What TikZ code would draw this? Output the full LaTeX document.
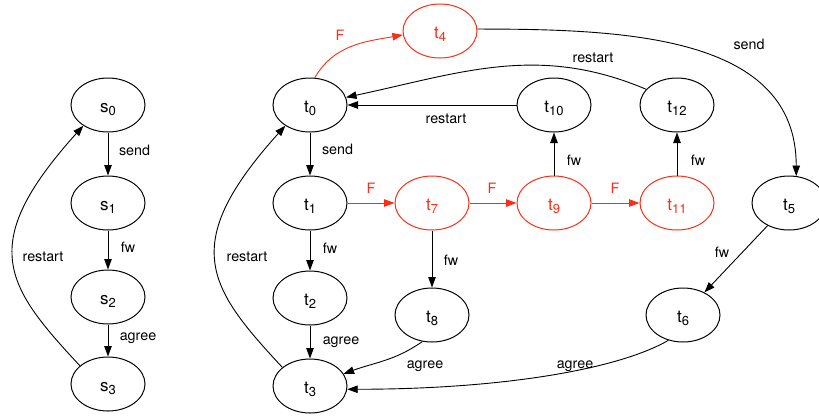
\documentclass[tikz,border=0pt]{standalone}
\usepackage{fontspec}
\setmainfont{TeX Gyre Heros}
\usetikzlibrary{shapes.geometric,arrows.meta}
\definecolor{fred}{RGB}{252,45,20}
\newcommand\nlab[2]{#1\raisebox{-3pt}{\fontsize{13}{13}\selectfont #2}\rule{0pt}{18.5pt}}
\begin{document}
\begin{tikzpicture}[x=1pt,y=1pt,
  st/.style={ellipse, draw, line width=1pt, minimum width=74pt, minimum height=54pt, inner sep=0pt, font=\fontsize{17}{17}\selectfont},
  rst/.style={st, draw=fred, text=fred},
  arr/.style={line width=0.9pt, -{Triangle[length=10.5pt,width=7.5pt]}},
  rarr/.style={arr, color=fred},
  lbl/.style={font=\fontsize{14.3}{14.3}\selectfont, inner sep=0pt},
  rlbl/.style={lbl, text=fred}]
\useasboundingbox (0,0) rectangle (819,-416);
% left chain
\node[st] (s0) at (108,-105) {\nlab{s}{0}};
\node[st] (s1) at (108,-203) {\nlab{s}{1}};
\node[st] (s2) at (108,-297) {\nlab{s}{2}};
\node[st] (s3) at (108,-384) {\nlab{s}{3}};
% right graph
\node[st] (t0) at (310,-105) {\nlab{t}{0}};
\node[st] (t1) at (310,-203) {\nlab{t}{1}};
\node[st] (t2) at (310,-298) {\nlab{t}{2}};
\node[st] (t3) at (310,-386) {\nlab{t}{3}};
\node[rst] (t4) at (440,-31) {\nlab{t}{4}};
\node[st] (t5) at (789,-203) {\nlab{t}{5}};
\node[st] (t6) at (683,-315) {\nlab{t}{6}};
\node[rst] (t7) at (432,-203) {\nlab{t}{7}};
\node[st] (t8) at (432,-315) {\nlab{t}{8}};
\node[rst] (t9) at (554,-203) {\nlab{t}{9}};
\node[st] (t10) at (554,-105) {\nlab{t}{10}};
\node[rst] (t11) at (677,-203) {\nlab{t}{11}};
\node[st] (t12) at (677,-105) {\nlab{t}{12}};
% left edges
\draw[arr] (s0) -- (s1) node[lbl] at (134.5,-150) {send};
\draw[arr] (s1) -- (s2) node[lbl] at (128,-247) {fw};
\draw[arr] (s2) -- (s3) node[lbl] at (138,-338) {agree};
\draw[arr] (s3.147) to[out=133, in=228, out distance=110pt, in distance=160pt] (s0.220)
  node[lbl] at (43,-257) {restart};
% right edges
\draw[arr] (t0) -- (t1) node[lbl] at (337.5,-149) {send};
\draw[arr] (t1) -- (t2) node[lbl] at (330,-248) {fw};
\draw[arr] (t2) -- (t3) node[lbl] at (341,-342) {agree};
\draw[arr] (t3.146) to[out=133, in=228, out distance=110pt, in distance=160pt] (t0.220)
  node[lbl] at (247,-257) {restart};
\draw[rarr] (t0.80) to[out=60, in=190] (t4.186) node[rlbl] at (340,-35) {F};
\draw[arr] (t4.3) to[out=0, in=90, out distance=150pt, in distance=140pt] (t5.75)
  node[lbl] at (749,-44) {send};
\draw[arr] (t12.153) to[out=157, in=12] (t0.12) node[lbl] at (593,-58) {restart};
\draw[arr] (t10) -- (t0) node[lbl] at (446,-119) {restart};
\draw[rarr] (t1) -- (t7) node[rlbl] at (371,-188) {F};
\draw[rarr] (t7) -- (t9) node[rlbl] at (492,-188) {F};
\draw[rarr] (t9) -- (t11) node[rlbl] at (615,-188) {F};
\draw[arr] (t9) -- (t10) node[lbl] at (574,-160) {fw};
\draw[arr] (t11) -- (t12) node[lbl] at (698,-160) {fw};
\draw[arr] (t7) -- (t8) node[lbl] at (451,-260) {fw};
\draw[arr] (t8.250) to[out=215, in=20] (t3.20) node[lbl] at (425,-366) {agree};
\draw[arr] (t5) -- (t6) node[lbl] at (722,-252) {fw};
\draw[arr] (t6.240) to[out=210, in=0, out distance=60pt, in distance=150pt] (t3.355)
  node[lbl] at (575,-366) {agree};
\end{tikzpicture}
\end{document}
